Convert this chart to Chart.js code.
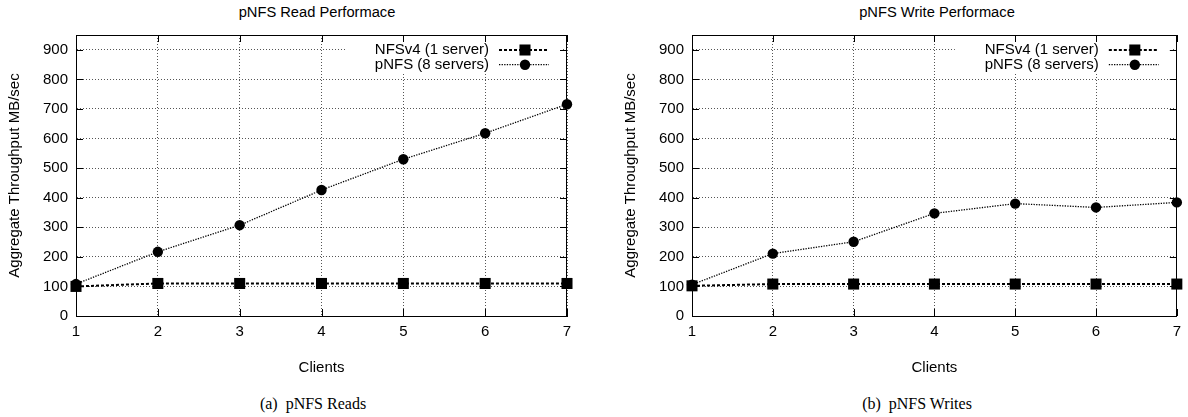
<!DOCTYPE html>
<html><head><meta charset="utf-8">
<script src="https://cdn.jsdelivr.net/npm/chart.js@4.4.0/dist/chart.umd.min.js"></script>
<style>
html,body{margin:0;padding:0;background:#fff;width:1188px;height:417px;overflow:hidden;position:relative;font-family:"Liberation Sans",Arial,sans-serif;color:#000}
canvas{position:absolute;top:0}
.title{position:absolute;font-size:14.7px;line-height:18px;top:3px;transform:translateX(-50%);white-space:nowrap}
.cap{position:absolute;font-family:"Liberation Serif","Times New Roman",serif;font-size:16px;line-height:20px;top:394px;transform:translateX(-50%);white-space:pre}
</style></head><body>
<div class="title" id="t1" style="left:317px"></div>
<div class="title" id="t2" style="left:937px"></div>
<canvas id="c1" width="590" height="380" style="left:0px"></canvas>
<canvas id="c2" width="572" height="380" style="left:616px"></canvas>
<div class="cap" id="k1" style="left:313px"></div>
<div class="cap" id="k2" style="left:917px"></div>
<script>
const clients = ['1','2','3','4','5','6','7'];
const readNFSv4 = [100,110,110,110,110,110,110];
const readPNFS = [108,217,307,426,530,618,716];
const writeNFSv4 = [102,108,108,108,108,108,108];
const writePNFS = [106,211,251,347,380,367,384];
const yTickValues = [0,100,200,300,400,500,600,700,800,900];
const seriesNames = ['NFSv4 (1 server)','pNFS (8 servers)'];
const chartTitles = ['pNFS Read Performace','pNFS Write Performace'];
const captions = ['(a)  pNFS Reads','(b)  pNFS Writes'];
const xTitle = 'Clients';
const yTitle = 'Aggregate Throughput MB/sec';

document.getElementById('t1').textContent = chartTitles[0];
document.getElementById('t2').textContent = chartTitles[1];
document.getElementById('k1').textContent = captions[0];
document.getElementById('k2').textContent = captions[1];

const FONT = '"Liberation Sans", Arial, sans-serif';

const gnuplotDecor = {
  id: 'gnuplotDecor',
  afterDraw(chart){
    const ctx = chart.ctx;
    const {left,right,top,bottom} = chart.chartArea;
    ctx.save();
    // legend box
    ctx.fillStyle = '#fff';
    ctx.fillRect(right-222, top+6, 218, 33);
    ctx.font = '15px ' + FONT;
    ctx.textAlign = 'right';
    ctx.textBaseline = 'middle';
    chart.data.datasets.forEach((ds,i)=>{
      const y = top + 15 + i*14.7;
      ctx.fillStyle = '#000';
      ctx.fillText(ds.label, right-78, y);
      ctx.strokeStyle = ds.borderColor;
      ctx.lineWidth = ds.borderWidth;
      ctx.setLineDash(ds.borderDash || []);
      ctx.beginPath(); ctx.moveTo(right-68, y); ctx.lineTo(right-18, y); ctx.stroke();
      ctx.setLineDash([]);
      const cx = right-42;
      ctx.fillStyle = '#000';
      ctx.beginPath();
      if (ds.pointStyle === 'rect') {
        const s = ds.pointRadius*Math.SQRT1_2;
        ctx.rect(cx-s, y-s, 2*s, 2*s);
      } else {
        ctx.arc(cx, y, ds.pointRadius, 0, Math.PI*2);
      }
      ctx.fill();
    });
    // tick marks & border
    ctx.strokeStyle = '#000';
    ctx.lineWidth = 1;
    const xs = chart.scales.x, ys = chart.scales.y;
    const line = (a,b,c,d)=>{ctx.beginPath();ctx.moveTo(a,b);ctx.lineTo(c,d);ctx.stroke();};
    xs.ticks.forEach((t,i)=>{
      const px = Math.round(xs.getPixelForTick(i))+0.5;
      line(px,bottom,px,bottom-7);
      line(px,top,px,top+7);
    });
    ys.ticks.forEach(t=>{
      const py = Math.round(ys.getPixelForValue(t.value))+0.5;
      line(left,py,left+7,py);
      line(right,py,right-7,py);
    });
    ctx.strokeRect(Math.round(left)+0.5, Math.round(top)+0.5, Math.round(right-left)-1, Math.round(bottom-top));
    ctx.restore();
  }
};

function makeChart(id, nfs, pnfs, padRight){
  return new Chart(document.getElementById(id), {
    type: 'line',
    data: {
      labels: clients,
      datasets: [
        {label: seriesNames[0], data: nfs, borderColor:'#000', backgroundColor:'#000', borderWidth:2, borderDash:[3,2],
         pointStyle:'rect', pointRadius:7.8, pointHoverRadius:7.8, pointBorderWidth:0, pointBackgroundColor:'#000', tension:0, clip:false},
        {label: seriesNames[1], data: pnfs, borderColor:'#000', backgroundColor:'#000', borderWidth:1.3, borderDash:[1.3,1.3],
         pointStyle:'circle', pointRadius:5.2, pointHoverRadius:5.2, pointBorderWidth:0, pointBackgroundColor:'#000', tension:0, clip:false}
      ]
    },
    options: {
      responsive:false, animation:false, devicePixelRatio:1,
      layout:{padding:{top:35, right:padRight, left:0, bottom:0}},
      plugins:{legend:{display:false}, title:{display:false}, tooltip:{enabled:false}},
      scales:{
        x:{
          type:'category', offset:false,
          grid:{color:'#555', lineWidth:1, drawTicks:false},
          border:{display:true, color:'#000', width:1, dash:[1,2]},
          ticks:{color:'#000', padding:7, maxRotation:0, font:{family:FONT, size:15}},
          title:{display:true, text:xTitle, color:'#000', font:{family:FONT, size:15}, padding:{top:0, bottom:3}},
          afterFit(s){ s.height = 64; }
        },
        y:{
          min:0, max:950,
          afterBuildTicks(s){ s.ticks = yTickValues.map(v=>({value:v})); },
          grid:{color:'#555', lineWidth:1, drawTicks:false},
          border:{display:true, color:'#000', width:1, dash:[1,2]},
          ticks:{color:'#000', padding:8, font:{family:FONT, size:15}},
          title:{display:true, text:yTitle, color:'#000', font:{family:FONT, size:15}, padding:{top:6, bottom:0}},
          afterFit(s){ s.width = 76; }
        }
      }
    },
    plugins:[gnuplotDecor]
  });
}
makeChart('c1', readNFSv4, readPNFS, 23);
makeChart('c2', writeNFSv4, writePNFS, 5);
</script>
</body></html>
